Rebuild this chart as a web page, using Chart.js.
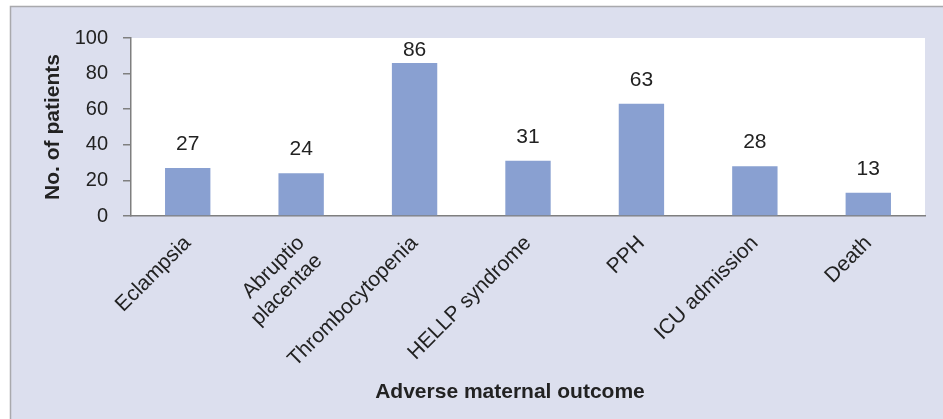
<!DOCTYPE html>
<html>
<head>
<meta charset="utf-8">
<script src="https://cdn.jsdelivr.net/npm/chart.js@4"></script>
<style>
html,body{margin:0;padding:0;background:#fff;}
#wrap{width:943px;height:419px;position:relative;}
</style>
</head>
<body>
<div id="wrap"><canvas id="c" width="943" height="419"></canvas></div>
<script>
const categories = ["Eclampsia", ["Abruptio", "placentae"], "Thrombocytopenia", "HELLP syndrome", "PPH", "ICU admission", "Death"];
const patients = [27, 24, 86, 31, 63, 28, 13];
const yTicks = [0, 20, 40, 60, 80, 100];
const yTitle = "No. of patients";
const xTitle = "Adverse maternal outcome";

const FONT = "'Liberation Sans', Arial, sans-serif";
const TEXT = "#222222";

const panelPlugin = {
  id: "panel",
  beforeDraw(chart) {
    const ctx = chart.ctx, a = chart.chartArea;
    ctx.save();
    ctx.fillStyle = "#ffffff";
    ctx.fillRect(0, 0, chart.width, chart.height);
    ctx.fillStyle = "#dcdfee";
    ctx.fillRect(10, 6, chart.width - 10, chart.height - 6);
    ctx.strokeStyle = "#a9a9ad";
    ctx.lineWidth = 1.5;
    ctx.beginPath();
    ctx.moveTo(10.5, chart.height);
    ctx.lineTo(10.5, 6.5);
    ctx.lineTo(chart.width, 6.5);
    ctx.stroke();
    ctx.fillStyle = "#ffffff";
    ctx.fillRect(a.left, a.top, a.right - a.left, a.bottom - a.top);
    ctx.restore();
  },
  afterDatasetsDraw(chart) {
    const ctx = chart.ctx, a = chart.chartArea;
    const meta = chart.getDatasetMeta(0);
    ctx.save();
    ctx.font = "21px " + FONT;
    ctx.fillStyle = TEXT;
    ctx.textAlign = "center";
    ctx.textBaseline = "middle";
    meta.data.forEach((bar, i) => {
      const y = Math.max(bar.y - 24, a.top + 12.5);
      ctx.fillText(String(patients[i]), bar.x, y);
    });
    // x axis title
    ctx.font = "bold 21px " + FONT;
    ctx.fillText(xTitle, 510, 392);
    ctx.restore();
  }
};

new Chart(document.getElementById("c"), {
  type: "bar",
  data: {
    labels: categories,
    datasets: [{
      data: patients,
      backgroundColor: "#89a0d1",
      borderWidth: 0,
      barPercentage: 0.4,
      categoryPercentage: 1.0
    }]
  },
  options: {
    responsive: false,
    animation: false,
    devicePixelRatio: 1,
    layout: { padding: { left: 0, right: 18, top: 38, bottom: 0 } },
    plugins: { legend: { display: false }, tooltip: { enabled: false } },
    scales: {
      x: {
        grid: { display: false, drawTicks: false },
        border: { display: true, color: "#7f7f7f", width: 1.5 },
        ticks: {
          color: TEXT,
          font: { family: FONT, size: 21 },
          maxRotation: 45, minRotation: 45,
          padding: 15,
          autoSkip: false
        },
        afterFit(scale) { scale.height = 419 - 216; }
      },
      y: {
        min: 0, max: 100,
        afterBuildTicks(scale) { scale.ticks = yTicks.map(v => ({ value: v })); },
        grid: { drawOnChartArea: false, drawTicks: true, tickLength: 8, color: "#7f7f7f", lineWidth: 1.5 },
        border: { display: true, color: "#7f7f7f", width: 1.5 },
        ticks: { color: TEXT, font: { family: FONT, size: 20 }, padding: 15 },
        title: {
          display: true, text: yTitle, color: TEXT,
          font: { family: FONT, size: 21, weight: "bold" },
          padding: { top: 41, bottom: 0 }
        },
        afterFit(scale) { scale.width = 131; }
      }
    }
  },
  plugins: [panelPlugin]
});
</script>
</body>
</html>
